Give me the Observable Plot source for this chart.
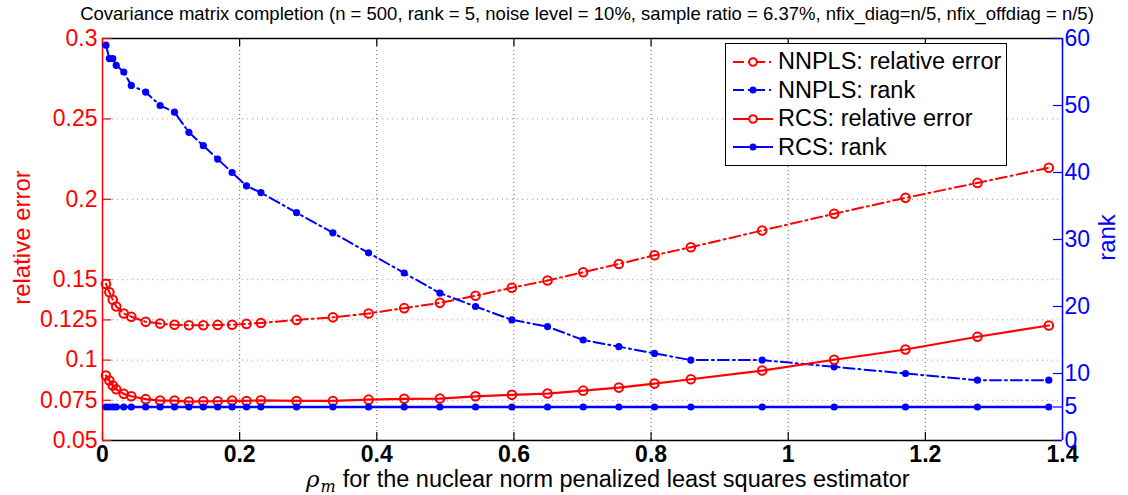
<!DOCTYPE html>
<html>
<head>
<meta charset="utf-8">
<script src="https://cdn.jsdelivr.net/npm/d3@7"></script>
<script src="https://cdn.jsdelivr.net/npm/@observablehq/plot@0.6"></script>
<style>
  html, body { margin: 0; padding: 0; background: white; }
  body { width: 1128px; height: 495px; position: relative; overflow: hidden; font-family: "Liberation Sans", Arial, sans-serif; }
  #title { position: absolute; top: 3px; left: 0; width: 1174px; text-align: center; font-size: 18.5px; color: #000; white-space: nowrap; line-height: 21px; z-index: 5; }
  #chart { position: absolute; top: 24px; left: 0; z-index: 1; }
  #xlabel { position: absolute; top: 466px; left: 306px; font-size: 23.5px; color: #000; white-space: nowrap; z-index: 5; }
  #xlabel i { font-family: "DejaVu Serif", serif; font-size: 23px; }
  #xlabel sub { font-family: "DejaVu Serif", serif; font-size: 16px; font-style: italic; vertical-align: -5px; line-height: 0; margin-right: 7px; margin-left: 1px; }
  #legend { position: absolute; left: 725px; top: 43px; width: 280px; height: 121px; border: 1px solid #000; background: #fff; z-index: 5; }
  .row { position: absolute; left: 0; height: 29px; display: flex; align-items: center; font-size: 23.5px; color: #000; white-space: nowrap; }
  .row svg { margin-left: 7px; margin-right: 5px; }
</style>
</head>
<body>
<div id="title">Covariance matrix completion (n = 500, rank = 5, noise level = 10%, sample ratio = 6.37%, nfix_diag=n/5, nfix_offdiag = n/5)</div>
<div id="chart"></div>
<div id="xlabel"><i>ρ</i><sub>m</sub>for the nuclear norm penalized least squares estimator</div>
<div id="legend"></div>
<script>
// ---- data ----
const rho = [0.005, 0.01, 0.015, 0.02, 0.031, 0.042, 0.063, 0.084, 0.105, 0.126, 0.147, 0.168, 0.189, 0.21, 0.231, 0.283, 0.336, 0.388, 0.44, 0.492, 0.544, 0.597, 0.649, 0.701, 0.753, 0.805, 0.858, 0.962, 1.067, 1.171, 1.276, 1.38];
const nnplsErr = [0.1474, 0.1422, 0.1375, 0.1333, 0.129, 0.127, 0.1238, 0.1227, 0.122, 0.1217, 0.1217, 0.1219, 0.122, 0.1225, 0.1231, 0.125, 0.1266, 0.129, 0.1323, 0.1356, 0.14, 0.145, 0.1495, 0.1546, 0.1598, 0.1652, 0.1702, 0.1806, 0.191, 0.2009, 0.2102, 0.2196];
const nnplsRank = [59, 57, 57, 56, 55, 53, 52, 50, 49, 46, 44, 42, 40, 38, 37, 34, 31, 28, 25, 22, 20, 18, 17, 15, 14, 13, 12, 12, 11, 10, 9, 9];
const rcsErr = [0.0904, 0.0873, 0.0842, 0.0819, 0.079, 0.0775, 0.0757, 0.0748, 0.0748, 0.0742, 0.0744, 0.0744, 0.0748, 0.0746, 0.075, 0.0746, 0.0746, 0.0754, 0.0759, 0.0761, 0.0775, 0.0784, 0.0792, 0.081, 0.0829, 0.0854, 0.0881, 0.0935, 0.1002, 0.1066, 0.1145, 0.1215];
const rcsRank = [5, 5, 5, 5, 5, 5, 5, 5, 5, 5, 5, 5, 5, 5, 5, 5, 5, 5, 5, 5, 5, 5, 5, 5, 5, 5, 5, 5, 5, 5, 5, 5];
const xTicks = [0, 0.2, 0.4, 0.6, 0.8, 1, 1.2, 1.4];
const errTicks = [0.05, 0.075, 0.1, 0.125, 0.15, 0.2, 0.25, 0.3];
const rankTicks = [0, 5, 10, 20, 30, 40, 50, 60];
const errDomain = [0.05, 0.3];
const rankDomain = [0, 60];
const seriesNames = ["NNPLS: relative error", "NNPLS: rank", "RCS: relative error", "RCS: rank"];

// ---- helpers ----
const rankToErr = r => errDomain[0] + (r - rankDomain[0]) * (errDomain[1] - errDomain[0]) / (rankDomain[1] - rankDomain[0]);
const fmt = d3.format("~g");
const RED = "#ff0000", BLUE = "#0000ff";
const DASHDOT = "11,4,2,4";

const rows = rho.map((x, i) => ({x, ne: nnplsErr[i], nr: rankToErr(nnplsRank[i]), re: rcsErr[i], rr: rankToErr(rcsRank[i])}));

const W = 1128, H = 471, mT = 14, mB = 55, mL = 102, mR = 66;
const fw = W - mL - mR, fh = H - mT - mB;

const chart = Plot.plot({
  width: W, height: H,
  marginTop: mT, marginBottom: mB, marginLeft: mL, marginRight: mR,
  x: {domain: [0, 1.4], axis: null},
  y: {domain: errDomain, axis: null},
  style: {fontFamily: "'Liberation Sans', Arial, sans-serif", background: "transparent", overflow: "visible"},
  marks: [
    Plot.ruleX(xTicks, {x: d => d, stroke: "#555", strokeWidth: 1, strokeDasharray: "1,3"}),
    Plot.ruleY(errTicks, {y: d => d, stroke: RED, strokeOpacity: 0.55, strokeWidth: 1, strokeDasharray: "1,4"}),
    // frame
    Plot.ruleY([errDomain[1]], {y: d => d, stroke: "black", strokeWidth: 1.3}),
    Plot.ruleY([errDomain[0]], {y: d => d, stroke: "black", strokeWidth: 1.3}),
    // ticks (inward)
    Plot.tickX(xTicks, {x: d => d, stroke: "black", strokeWidth: 1.2, insetTop: fh - 8}),
    Plot.tickX(xTicks, {x: d => d, stroke: "black", strokeWidth: 1.2, insetBottom: fh - 8}),
    Plot.tickY(errTicks, {y: d => d, stroke: RED, strokeWidth: 1.2, insetRight: fw - 9}),
    Plot.tickY(rankTicks, {y: r => rankToErr(r), stroke: BLUE, strokeWidth: 1.2, insetLeft: fw - 9}),
    Plot.ruleX([0], {x: d => d, stroke: RED, strokeWidth: 1.5}),
    Plot.ruleX([1.4], {x: d => d, stroke: BLUE, strokeWidth: 1.5}),
    // tick labels
    Plot.text(xTicks, {x: d => d, frameAnchor: "bottom", text: d => fmt(d), lineAnchor: "top", dy: 5, fontSize: 23, fontWeight: "bold", fill: "black"}),
    Plot.text(errTicks, {y: d => d, frameAnchor: "left", text: d => fmt(d), textAnchor: "end", dx: -5, fontSize: 23, fill: RED}),
    Plot.text(rankTicks, {y: r => rankToErr(r), frameAnchor: "right", text: d => String(d), textAnchor: "start", dx: 2, fontSize: 23, fill: BLUE}),
    // axis labels
    Plot.text(["relative error"], {frameAnchor: "left", text: d => d, rotate: -90, textAnchor: "middle", dx: -80, dy: -2, fontSize: 24, fill: RED}),
    Plot.text(["rank"], {frameAnchor: "right", text: d => d, rotate: -90, textAnchor: "middle", dx: 45, dy: -2, fontSize: 24, fill: BLUE}),
    // series
    Plot.line(rows, {x: "x", y: "ne", stroke: RED, strokeWidth: 2, strokeDasharray: DASHDOT}),
    Plot.dot(rows, {x: "x", y: "ne", r: 4.3, stroke: RED, strokeWidth: 2, fill: "none"}),
    Plot.line(rows, {x: "x", y: "nr", stroke: BLUE, strokeWidth: 2, strokeDasharray: DASHDOT}),
    Plot.dot(rows, {x: "x", y: "nr", r: 3.6, fill: BLUE, stroke: "none"}),
    Plot.line(rows, {x: "x", y: "re", stroke: RED, strokeWidth: 2.2}),
    Plot.dot(rows, {x: "x", y: "re", r: 4.3, stroke: RED, strokeWidth: 2, fill: "none"}),
    Plot.line(rows, {x: "x", y: "rr", stroke: BLUE, strokeWidth: 2.6}),
    Plot.dot(rows, {x: "x", y: "rr", r: 3.6, fill: BLUE, stroke: "none"})
  ]
});
document.getElementById("chart").appendChild(chart);

// ---- legend ----
const legendStyles = [
  {color: RED, dash: DASHDOT, open: true},
  {color: BLUE, dash: DASHDOT, open: false},
  {color: RED, dash: null, open: true},
  {color: BLUE, dash: null, open: false}
];
const legend = document.getElementById("legend");
seriesNames.forEach((name, i) => {
  const s = legendStyles[i];
  const row = document.createElement("div");
  row.className = "row";
  row.style.top = (3 + i * 28.5) + "px";
  const marker = s.open
    ? `<circle cx="20" cy="10" r="3.8" fill="white" stroke="${s.color}" stroke-width="2"/>`
    : `<circle cx="20" cy="10" r="3.5" fill="${s.color}"/>`;
  row.innerHTML = `<svg width="40" height="20"><line x1="0" y1="10" x2="40" y2="10" stroke="${s.color}" stroke-width="2" ${s.dash ? `stroke-dasharray="${s.dash}"` : ""}/>${marker}</svg><span>${name}</span>`;
  legend.appendChild(row);
});
</script>
</body>
</html>
